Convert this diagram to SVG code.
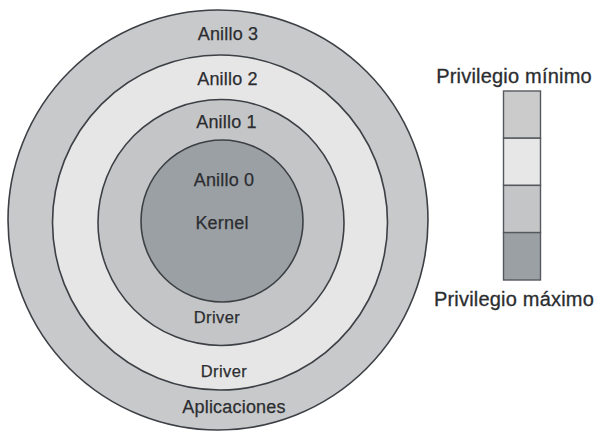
<svg xmlns="http://www.w3.org/2000/svg" width="598" height="431" viewBox="0 0 598 431">
<style>
.ring{stroke:#3c4045;stroke-width:1.6}
.lbl{font-family:"Liberation Sans",Arial,sans-serif;font-size:18px;fill:#2b2d30;stroke:#2b2d30;stroke-width:0.25;text-anchor:middle;letter-spacing:0.2px}
.sm{font-size:16.5px;letter-spacing:0.4px}
.leg{font-family:"Liberation Sans",Arial,sans-serif;font-size:20px;fill:#2b2d30;stroke:#2b2d30;stroke-width:0.3;text-anchor:middle;letter-spacing:0.2px}
.cell{stroke:#55595e;stroke-width:1.4}
</style>
<rect width="598" height="431" fill="#ffffff"/>
<g id="anillo3">
<circle class="ring" cx="218" cy="220" r="210" fill="#c8c9cb"/>
<text class="lbl" x="228" y="40">Anillo 3</text>
<text class="lbl" x="234" y="413">Aplicaciones</text>
</g>
<g id="anillo2">
<circle class="ring" cx="220" cy="222.5" r="167.5" fill="#e7e6e7"/>
<text class="lbl" x="227.5" y="85">Anillo 2</text>
<text class="lbl sm" x="224" y="377">Driver</text>
</g>
<g id="anillo1">
<circle class="ring" cx="221" cy="222.5" r="123" fill="#c4c5c7"/>
<text class="lbl" x="226.5" y="128">Anillo 1</text>
<text class="lbl sm" x="217" y="323">Driver</text>
</g>
<g id="anillo0">
<circle class="ring" cx="222" cy="221" r="81" fill="#9ba0a5"/>
<text class="lbl" x="224" y="186">Anillo 0</text>
<text class="lbl" x="222" y="229">Kernel</text>
</g>
<g id="leyenda">
<text class="leg" x="514" y="83">Privilegio mínimo</text>
<rect class="cell" x="503.5" y="91" width="37" height="47.2" fill="#cbcbcc"/>
<rect class="cell" x="503.5" y="138.2" width="37" height="47.2" fill="#e8e7e8"/>
<rect class="cell" x="503.5" y="185.4" width="37" height="47.2" fill="#c4c5c7"/>
<rect class="cell" x="503.5" y="232.6" width="37" height="47.4" fill="#9ba0a4"/>
<text class="leg" x="514" y="306">Privilegio máximo</text>
</g>
<g id="connectors"/>
</svg>
